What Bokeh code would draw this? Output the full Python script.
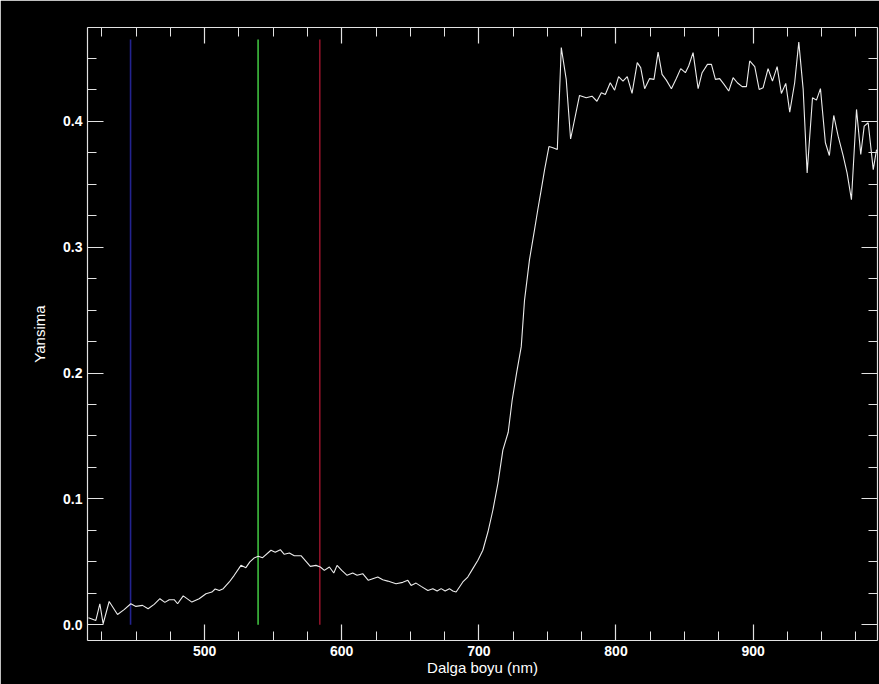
from bokeh.plotting import figure
from bokeh.models import Range1d, LinearAxis, SingleIntervalTicker, PrintfTickFormatter
from bokeh.embed import file_html
from bokeh.resources import INLINE

wavelength = [
    415.3, 420.7, 423.6, 426.0, 430.4, 436.5, 441.3, 446.2, 449.9, 454.7,
    458.8, 463.2, 467.4, 471.0, 474.2, 477.8, 480.3, 484.4, 490.7, 496.0,
    501.0, 505.3, 507.7, 510.7, 513.6, 518.0, 521.6, 526.5, 530.1, 533.0,
    536.0, 539.1, 542.3, 548.4, 551.5, 555.2, 558.1, 561.8, 565.4, 570.3,
    577.1, 581.2, 584.4, 587.3, 591.0, 594.2, 596.6, 600.0, 603.9, 608.0,
    611.2, 615.3, 619.4, 622.6, 626.3, 629.9, 633.6, 639.6, 644.5, 648.2,
    650.6, 654.2, 657.9, 662.8, 666.4, 669.6, 672.5, 675.4, 678.5, 681.0,
    683.4, 688.3, 691.9, 695.6, 699.3, 702.9, 706.6, 710.2, 713.9, 717.5,
    721.4, 724.3, 727.5, 730.9, 733.3, 736.9, 740.6, 743.0, 745.5, 748.0,
    751.1, 754.0, 757.2, 760.1, 763.7, 766.9, 773.4, 778.3, 782.5, 786.1,
    789.3, 792.2, 795.8, 799.0, 801.9, 805.1, 808.2, 811.7, 815.5, 818.0,
    820.9, 824.5, 827.7, 830.7, 833.6, 836.7, 840.4, 844.0, 847.2, 850.6,
    853.0, 856.2, 859.9, 862.8, 866.7, 869.6, 872.5, 875.6, 878.8, 882.2,
    885.4, 888.5, 892.0, 895.1, 897.5, 901.2, 904.4, 907.3, 910.9, 914.1,
    917.5, 920.6, 923.8, 926.7, 930.3, 933.3, 936.5, 939.4, 943.3, 946.2,
    949.1, 952.7, 955.6, 958.8, 962.0, 965.6, 968.5, 971.7, 975.4, 978.5,
    981.0, 983.9, 987.6, 990.0,
]
reflectance = [
    0.0056, 0.0034, 0.0167, 0.0008, 0.0185, 0.0082, 0.0120, 0.0167, 0.0146, 0.0154,
    0.0127, 0.0162, 0.0207, 0.0178, 0.0199, 0.0199, 0.0167, 0.0230, 0.0180, 0.0207,
    0.0247, 0.0260, 0.0284, 0.0273, 0.0287, 0.0340, 0.0393, 0.0472, 0.0454, 0.0500,
    0.0530, 0.0544, 0.0533, 0.0592, 0.0576, 0.0597, 0.0560, 0.0570, 0.0549, 0.0549,
    0.0464, 0.0472, 0.0459, 0.0432, 0.0459, 0.0411, 0.0472, 0.0432, 0.0393, 0.0411,
    0.0393, 0.0406, 0.0353, 0.0366, 0.0379, 0.0358, 0.0347, 0.0326, 0.0337, 0.0353,
    0.0313, 0.0331, 0.0305, 0.0273, 0.0287, 0.0268, 0.0287, 0.0268, 0.0287, 0.0268,
    0.0260, 0.0340, 0.0379, 0.0446, 0.0512, 0.0592, 0.0737, 0.0910, 0.1123, 0.1388,
    0.1530, 0.1786, 0.2000, 0.2210, 0.2580, 0.2900, 0.3140, 0.3300, 0.3458, 0.3620,
    0.3800, 0.3790, 0.3776, 0.4586, 0.4334, 0.3860, 0.4206, 0.4188, 0.4200, 0.4160,
    0.4228, 0.4214, 0.4307, 0.4248, 0.4355, 0.4320, 0.4355, 0.4222, 0.4467, 0.4427,
    0.4260, 0.4340, 0.4334, 0.4550, 0.4373, 0.4328, 0.4260, 0.4340, 0.4419, 0.4387,
    0.4440, 0.4546, 0.4260, 0.4387, 0.4453, 0.4453, 0.4334, 0.4340, 0.4294, 0.4241,
    0.4347, 0.4307, 0.4276, 0.4276, 0.4480, 0.4435, 0.4254, 0.4268, 0.4419, 0.4320,
    0.4435, 0.4222, 0.4302, 0.4073, 0.4307, 0.4630, 0.4254, 0.3591, 0.4188, 0.4169,
    0.4260, 0.3830, 0.3729, 0.4047, 0.3882, 0.3729, 0.3591, 0.3378, 0.4095, 0.3737,
    0.3962, 0.3989, 0.3617, 0.3776,
]

band_wavelength = [446, 539, 584]
band_color = ["#23238f", "#3fbf3f", "#8c1228"]
band_bottom = [0.0, 0.0, 0.0]
band_top = [0.465, 0.465, 0.465]

x_title = "Dalga boyu (nm)"
y_title = "Yansima"

FONT = "Liberation Sans"
AXIS_COLOR = "#e2e2e2"

p = figure(
    frame_width=790, frame_height=613,
    x_range=Range1d(414.6, 990.7), y_range=Range1d(-0.0125, 0.4746),
    output_backend="svg", toolbar_location=None,
    background_fill_color="black", border_fill_color="black",
    outline_line_color=None,
    min_border_left=87, min_border_right=2, min_border_top=27, min_border_bottom=44,
)
p.grid.visible = False


def style_axis(ax, ticker, show_labels):
    ax.ticker = ticker
    ax.axis_line_color = AXIS_COLOR
    ax.axis_line_width = 1.2
    ax.major_tick_line_color = AXIS_COLOR
    ax.minor_tick_line_color = AXIS_COLOR
    ax.major_tick_in = 16
    ax.major_tick_out = 0
    ax.minor_tick_in = 9
    ax.minor_tick_out = 0
    ax.major_tick_line_width = 1.2
    ax.minor_tick_line_width = 1
    if show_labels:
        ax.major_label_text_color = "white"
        ax.major_label_text_font = FONT
        ax.major_label_text_font_size = "14px"
        ax.major_label_text_font_style = "bold"
        ax.major_label_standoff = 5
        ax.axis_label_text_color = "white"
        ax.axis_label_text_font = FONT
        ax.axis_label_text_font_size = "15px"
        ax.axis_label_text_font_style = "normal"
    else:
        ax.major_label_text_color = None
        ax.major_label_text_font_size = "0px"
        ax.major_label_standoff = 0
        ax.axis_label = None


xb = p.xaxis[0]
yl = p.yaxis[0]
style_axis(xb, SingleIntervalTicker(interval=100, num_minor_ticks=4), True)
style_axis(yl, SingleIntervalTicker(interval=0.1, num_minor_ticks=4), True)
xb.axis_label = x_title
xb.axis_label_standoff = 0
yl.axis_label = y_title
yl.axis_label_standoff = 12
yl.formatter = PrintfTickFormatter(format="%.1f")

xt = LinearAxis()
style_axis(xt, SingleIntervalTicker(interval=100, num_minor_ticks=4), False)
p.add_layout(xt, "above")
yr = LinearAxis()
style_axis(yr, SingleIntervalTicker(interval=0.1, num_minor_ticks=4), False)
p.add_layout(yr, "right")

p.segment(x0=band_wavelength, x1=band_wavelength, y0=band_bottom, y1=band_top,
          line_color=band_color, line_width=1.6)

p.line(wavelength, reflectance, line_color="#ececec", line_width=1.1)

open("out.html", "w").write(file_html(p, INLINE))
